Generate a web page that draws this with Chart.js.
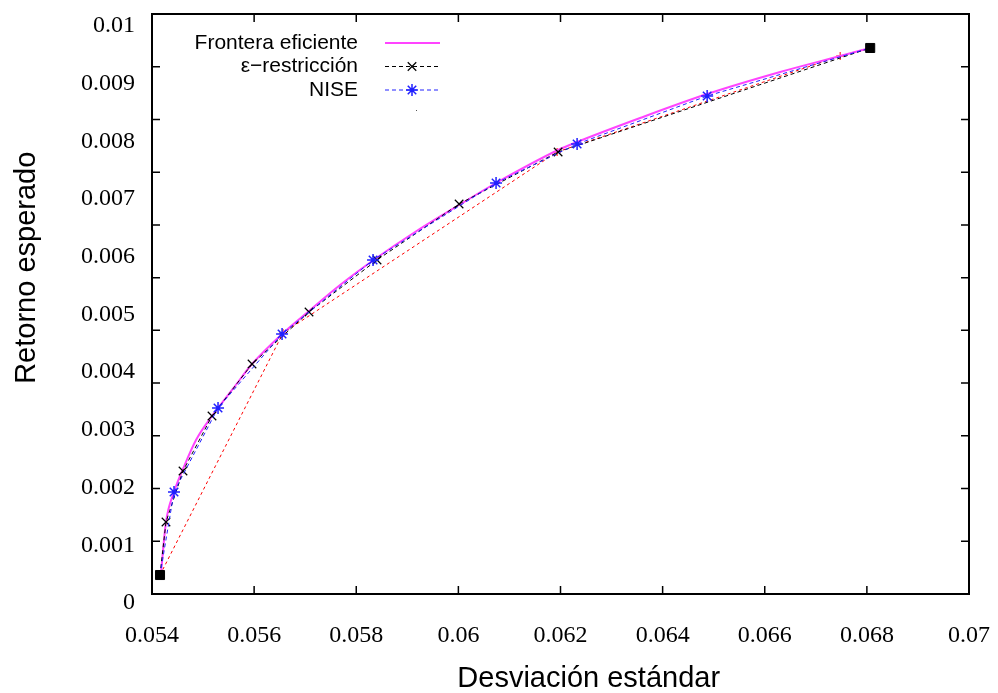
<!DOCTYPE html>
<html>
<head>
<meta charset="utf-8">
<script src="https://cdn.jsdelivr.net/npm/chart.js@4.4.0/dist/chart.umd.min.js"></script>
<style>
  html, body { margin: 0; padding: 0; background: #fff; }
</style>
</head>
<body>
<canvas id="frontera" width="998" height="693"></canvas>
<script>
// desviacion estandar (x) y retorno esperado (y)
const fronteraX = [0.054176, 0.054274, 0.054431, 0.054607, 0.054862, 0.055175, 0.055293, 0.055626, 0.055959, 0.056547, 0.057075, 0.057683, 0.058368, 0.059152, 0.060014, 0.060738, 0.061953, 0.062325, 0.063559, 0.064872, 0.066302, 0.067477, 0.068065];
const fronteraY = [0.000520, 0.001404, 0.001924, 0.002322, 0.002825, 0.003241, 0.003380, 0.003761, 0.004142, 0.004662, 0.005061, 0.005511, 0.005962, 0.006430, 0.006898, 0.007279, 0.007851, 0.007990, 0.008406, 0.008821, 0.009203, 0.009480, 0.009619];

const epsX = [0.054157, 0.054274, 0.054607, 0.055175, 0.055959, 0.057075, 0.058407, 0.060014, 0.061953, 0.068065];
const epsY = [0.000485, 0.001404, 0.002288, 0.003241, 0.004142, 0.005043, 0.005945, 0.006915, 0.007816, 0.009619];

const niseX = [0.054157, 0.054431, 0.055293, 0.056547, 0.058329, 0.060738, 0.062325, 0.064872, 0.068065];
const niseY = [0.000485, 0.001924, 0.003380, 0.004662, 0.005945, 0.007279, 0.007955, 0.008787, 0.009619];

const rojoX = [0.054157, 0.056566, 0.061933, 0.067477, 0.068065];
const rojoY = [0.000485, 0.004679, 0.007816, 0.009480, 0.009619];

const extremosX = [0.054157, 0.068065];
const extremosY = [0.000485, 0.009619];

const seriesNames = ['Frontera eficiente', 'ε−restricción', 'NISE', ''];

const xTicks = [0.054, 0.056, 0.058, 0.06, 0.062, 0.064, 0.066, 0.068, 0.07];
const xTickLabels = ['0.054', '0.056', '0.058', '0.06', '0.062', '0.064', '0.066', '0.068', '0.07'];
const yTicks = [0, 0.001, 0.002, 0.003, 0.004, 0.005, 0.006, 0.007, 0.008, 0.009, 0.01];
const yTickLabels = ['0', '0.001', '0.002', '0.003', '0.004', '0.005', '0.006', '0.007', '0.008', '0.009', '0.01'];
// marcas interiores del marco (eje de marcas, 0 a 0.011)
const yTickMarks = [0.001, 0.002, 0.003, 0.004, 0.005, 0.006, 0.007, 0.008, 0.009, 0.01];

function pairs(xs, ys) {
    return xs.map((x, i) => ({x: x, y: ys[i]}));
}

// sin marcador en los extremos (ahi va el cuadrado negro)
function innerRadius(xs, r) {
    return xs.map((x, i) => (i === 0 || i === xs.length - 1) ? 0 : r);
}

function noPadding(scale) {
    scale.paddingTop = 0;
    scale.paddingBottom = 0;
    scale.paddingLeft = 0;
    scale.paddingRight = 0;
}

const datasets = [
    {
        label: seriesNames[0],
        data: pairs(fronteraX, fronteraY),
        borderColor: '#ff44ff',
        borderWidth: 2,
        pointRadius: 0,
        cubicInterpolationMode: 'monotone',
        order: 3
    },
    {
        label: seriesNames[1],
        data: pairs(epsX, epsY),
        borderColor: '#000000',
        borderWidth: 1,
        borderDash: [4, 3],
        pointStyle: 'crossRot',
        pointRadius: innerRadius(epsX, 6),
        legendRadius: 6,
        pointBorderColor: '#000000',
        pointBorderWidth: 1.2,
        order: 2
    },
    {
        label: seriesNames[2],
        data: pairs(niseX, niseY),
        borderColor: '#2020ff',
        borderWidth: 1,
        borderDash: [4, 3],
        pointStyle: 'star',
        pointRadius: innerRadius(niseX, 6),
        legendRadius: 6,
        pointBorderColor: '#2020ff',
        pointBorderWidth: 1.5,
        order: 1
    },
    {
        label: seriesNames[3],
        data: pairs(rojoX, rojoY),
        borderColor: '#ff0000',
        borderWidth: 1,
        borderDash: [3, 3],
        pointStyle: 'cross',
        pointRadius: innerRadius(rojoX, 4),
        pointBorderColor: '#ff0000',
        pointBorderWidth: 1,
        order: 4
    },
    {
        label: '',
        data: pairs(extremosX, extremosY),
        showLine: false,
        pointStyle: 'rect',
        pointRadius: 6.4,
        pointBackgroundColor: '#000000',
        pointBorderColor: '#000000',
        order: 0
    }
];

const marco = {
    id: 'marco',
    afterDatasetsDraw(chart) {
        const {ctx, chartArea: a, scales} = chart;
        ctx.save();
        ctx.strokeStyle = '#000';
        ctx.setLineDash([]);
        ctx.lineWidth = 1.5;
        ctx.beginPath();
        yTickMarks.forEach(v => {
            const py = scales.yt.getPixelForValue(v);
            ctx.moveTo(a.left, py); ctx.lineTo(a.left + 8, py);
            ctx.moveTo(a.right, py); ctx.lineTo(a.right - 8, py);
        });
        xTicks.slice(1, -1).forEach(v => {
            const px = scales.x.getPixelForValue(v);
            ctx.moveTo(px, a.bottom); ctx.lineTo(px, a.bottom - 8);
            ctx.moveTo(px, a.top); ctx.lineTo(px, a.top + 8);
        });
        ctx.stroke();
        ctx.lineWidth = 2;
        ctx.strokeRect(a.left, a.top, a.right - a.left, a.bottom - a.top);
        ctx.restore();
    },
    afterDraw(chart) {
        // leyenda estilo gnuplot: texto a la derecha, muestra a la izquierda
        const ctx = chart.ctx;
        const rows = [43, 66.5, 90, 113.5];
        ctx.save();
        ctx.font = '21px "Liberation Sans"';
        ctx.textAlign = 'right';
        ctx.textBaseline = 'middle';
        ctx.fillStyle = '#000';
        for (let i = 0; i < 3; i++) {
            const ds = datasets[i];
            ctx.fillText(seriesNames[i], 358, rows[i]);
            ctx.strokeStyle = ds.borderColor;
            ctx.lineWidth = ds.borderWidth;
            ctx.setLineDash(ds.borderDash || []);
            ctx.beginPath();
            ctx.moveTo(385, rows[i]);
            ctx.lineTo(440, rows[i]);
            ctx.stroke();
            ctx.setLineDash([]);
            if (ds.pointStyle) {
                ctx.strokeStyle = ds.pointBorderColor;
                ctx.lineWidth = ds.pointBorderWidth;
                Chart.helpers.drawPoint(ctx, {pointStyle: ds.pointStyle, radius: ds.legendRadius, rotation: 0, borderWidth: ds.pointBorderWidth}, 412, rows[i]);
            }
        }
        ctx.fillStyle = '#555';
        ctx.fillRect(416, 110, 1, 1);
        ctx.restore();
    }
};

const ctx1 = document.getElementById('frontera');
new Chart(ctx1, {
    type: 'line',
    data: {datasets: datasets},
    options: {
        responsive: false,
        animation: false,
        devicePixelRatio: 1,
        layout: {padding: {left: 0, right: 29, top: 14, bottom: 0}},
        plugins: {legend: {display: false}, tooltip: {enabled: false}},
        scales: {
            x: {
                type: 'linear',
                position: 'bottom',
                min: 0.054,
                max: 0.07,
                afterBuildTicks: (scale) => { scale.ticks = xTicks.map(v => ({value: v})); },
                afterFit: (scale) => { scale.height = 99; noPadding(scale); },
                grid: {display: false, drawTicks: false},
                border: {display: false},
                ticks: {
                    autoSkip: false,
                    maxRotation: 0,
                    padding: 27,
                    color: '#000',
                    font: {family: '"Liberation Serif"', size: 24},
                    callback: (v, i) => xTickLabels[i]
                },
                title: {
                    display: true,
                    text: '       Desviación estándar',
                    color: '#000',
                    padding: {top: 0, bottom: 0},
                    font: {family: '"Liberation Sans"', size: 29, lineHeight: 1}
                }
            },
            y: {
                type: 'linear',
                position: 'left',
                min: 0.000156,
                max: 0.010208,
                afterBuildTicks: (scale) => { scale.ticks = yTicks.map(v => ({value: v})); },
                afterFit: (scale) => { scale.width = 152; noPadding(scale); },
                grid: {display: false, drawTicks: false},
                border: {display: false},
                ticks: {
                    autoSkip: false,
                    padding: 17,
                    color: '#000',
                    font: {family: '"Liberation Serif"', size: 24},
                    callback: (v, i) => yTickLabels[i]
                },
                title: {
                    display: true,
                    text: '         Retorno esperado',
                    color: '#000',
                    padding: {top: 10, bottom: 0},
                    font: {family: '"Liberation Sans"', size: 29}
                }
            },
            yt: {
                type: 'linear',
                position: 'right',
                display: false,
                min: 0,
                max: 0.011
            }
        }
    },
    plugins: [marco]
});
</script>
</body>
</html>
